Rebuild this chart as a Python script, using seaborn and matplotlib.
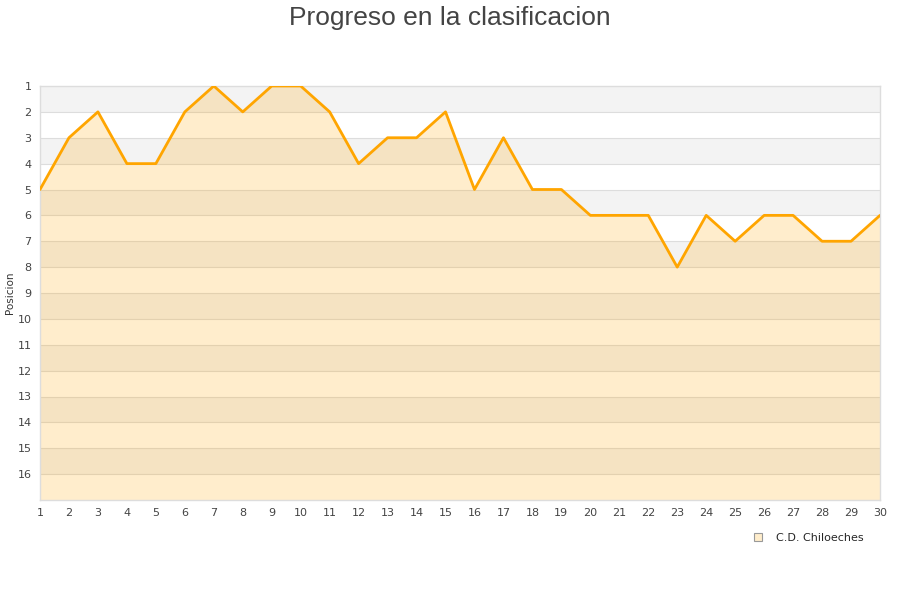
import pandas as pd
import matplotlib.pyplot as plt
import seaborn as sns
from matplotlib.lines import Line2D

# Data
jornadas = list(range(1, 31))
posiciones = [5, 3, 2, 4, 4, 2, 1, 2, 1, 1, 2, 4, 3, 3, 2,
              5, 3, 5, 5, 6, 6, 6, 8, 6, 7, 6, 6, 7, 7, 6]
equipo = 'C.D. Chiloeches'

df = pd.DataFrame({'Jornada': jornadas, 'Posicion': posiciones})

sns.set_style('white')
plt.rcParams['font.family'] = ['DejaVu Sans']

fig = plt.figure(figsize=(9, 6), dpi=100)
ax = fig.add_axes([40 / 900, 100 / 600, 840 / 900, 414 / 600])

# alternating bands
for y in range(1, 17, 2):
    ax.axhspan(y, y + 1, color='#f3f3f3', zorder=0, lw=0)
for y in range(2, 17):
    ax.axhline(y, color='#dddddd', lw=0.8, zorder=1)

ax.fill_between(df['Jornada'], df['Posicion'], 17, color='orange',
                alpha=0.2, lw=0, zorder=2)
sns.lineplot(data=df, x='Jornada', y='Posicion', color='orange',
             lw=2, ax=ax, zorder=3)

ax.set_xlim(1, 30)
ax.set_ylim(17, 1)
ax.set_xticks(jornadas)
ax.set_yticks(range(1, 17))
ax.tick_params(axis='both', length=0, labelsize=8, colors='#444444', pad=6)
ax.set_xlabel('')
ax.set_ylabel('Posicion', fontsize=7.5, color='#333333')
ax.yaxis.set_label_coords(-0.03, 0.5)
for s in ax.spines.values():
    s.set_color('#dddddd')
    s.set_linewidth(1)

fig.suptitle('Progreso en la clasificacion', fontsize=19, color='#444444',
             y=0.99, family='Liberation Sans')

handle = Line2D([], [], marker='s', ls='none', markersize=6,
                markerfacecolor='#ffedcb', markeredgecolor='#999999',
                markeredgewidth=0.8)
ax.legend([handle], [equipo], loc='upper right', bbox_to_anchor=(0.992, -0.055),
          frameon=False, fontsize=8, handletextpad=0.6)

fig.savefig('out.png', dpi=100)
